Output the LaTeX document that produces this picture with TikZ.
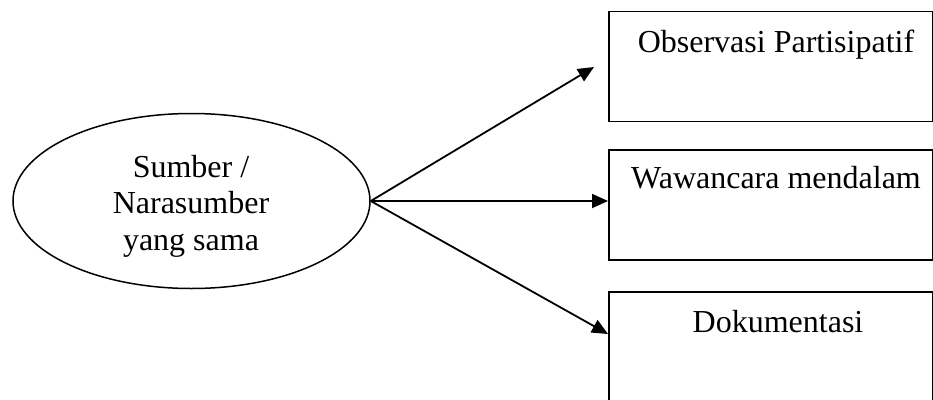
\documentclass[tikz,border=0pt]{standalone}
\usepackage{fontspec}
\setmainfont{Liberation Serif}
\usetikzlibrary{shapes.geometric,arrows.meta}
\begin{document}
\begin{tikzpicture}[x=1pt,y=-1pt,
  every node/.style={font=\fontsize{32}{36.5}\selectfont},
  boxnode/.style={draw, line width=1.5pt, rectangle, anchor=north west, minimum width=324pt, minimum height=110pt, inner sep=0pt},
  srcnode/.style={draw, line width=1.5pt, ellipse, minimum width=357pt, minimum height=175pt, inner sep=0pt},
  labelnode/.style={anchor=base, inner sep=0pt},
  arrowline/.style={line width=1.8pt, -{Triangle[length=16pt,width=14pt]}}]
\useasboundingbox (0,0) rectangle (933,399);
\node[srcnode] (src) at (191.5,201) {};
\node[inner sep=0pt, align=center] (srctext) at (191,206) {Sumber /\\Narasumber\\yang sama};
\node[boxnode] (b1) at (608,10.5) {};
\node[boxnode] (b2) at (608,149) {};
\node[boxnode, minimum height=130pt] (b3) at (608,291) {};
\node[labelnode] (t1) at (776,52) {Observasi Partisipatif};
\node[labelnode] (t2) at (776,188) {Wawancara mendalam};
\node[labelnode] (t3) at (778,332) {Dokumentasi};
\coordinate (tip1) at (594,67);
\coordinate (tip3) at (608,334);
\draw[arrowline] (src.east) -- (tip1);
\draw[arrowline] (src.east) -- (b2.west |- src.east);
\draw[arrowline] (src.east) -- (tip3);
\end{tikzpicture}
\end{document}
